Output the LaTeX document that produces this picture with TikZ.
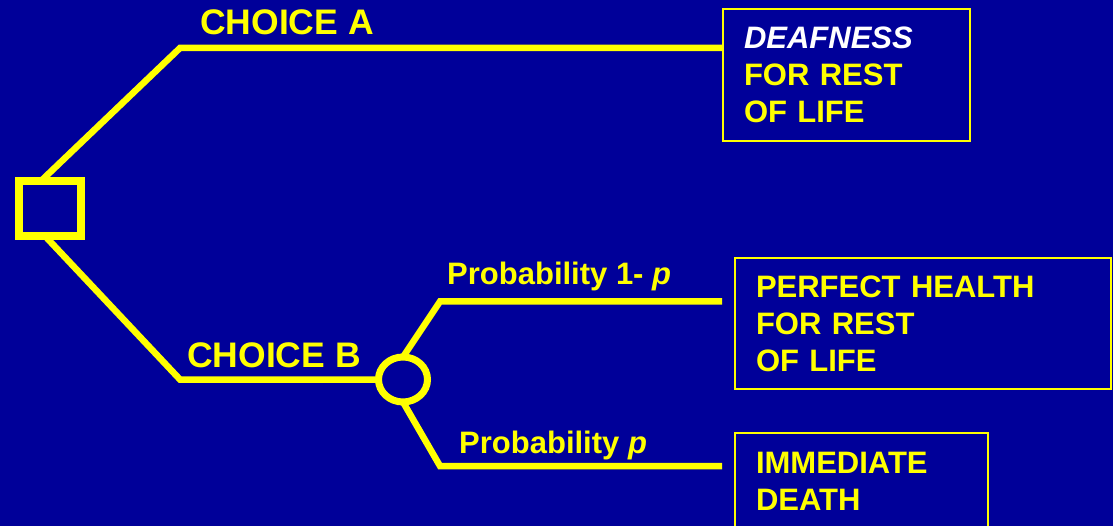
\documentclass[tikz,border=0pt]{standalone}
\usepackage{fontspec}
\setmainfont{Liberation Sans}
\usetikzlibrary{shapes.geometric}
\definecolor{bg}{RGB}{0,0,153}
\definecolor{yel}{RGB}{255,255,0}
\begin{document}
\begin{tikzpicture}[x=1pt,y=1pt,
  conn/.style={draw=yel, line width=6.5pt, line join=miter},
  outcome/.style={draw=yel, line width=2pt, text=yel, align=left,
    font=\fontsize{31}{37}\selectfont\bfseries, inner xsep=21pt},
  biglab/.style={text=yel, inner sep=0pt, anchor=base west,
    font=\fontsize{35.5}{40}\selectfont\bfseries},
  problab/.style={text=yel, inner sep=0pt, anchor=base west,
    font=\fontsize{31}{36}\selectfont\bfseries}
]
\useasboundingbox (0,0) rectangle (1113,-526);
\fill[bg] (0,0) rectangle (1113,-526);
\begin{scope}
\clip (0,0) rectangle (1113,-526);
% bend points
\coordinate (ka) at (180,-48);
\coordinate (kb) at (180,-379.5);
\coordinate (ku) at (440,-301.5);
\coordinate (kl) at (440,-466);
% outcome boxes
\node[outcome, text width=205pt, minimum height=132pt] (oa) at (846.5,-75)
  {\textcolor{white}{\itshape DEAFNESS}\\FOR REST\\OF LIFE};
\node[outcome, text width=334pt, minimum height=131pt] (op) at (923,-323.5)
  {PERFECT HEALTH\\FOR REST\\OF LIFE};
\node[outcome, text width=211pt, inner ysep=19pt, anchor=north west] (od) at (734,-432)
  {IMMEDIATE\\DEATH};
% decision and chance nodes (placed first as names, drawn over the connectors)
\node[minimum width=62pt, minimum height=55pt, inner sep=0pt, outer sep=0pt] (dec) at (50,-208.5) {};
\node[ellipse, minimum width=49pt, minimum height=45pt, inner sep=0pt, outer sep=0pt] (ch) at (403,-379.5) {};
% connectors
\draw[conn] ([xshift=-9pt]dec.north) -- (ka) -- (oa.west |- ka);
\draw[conn] ([xshift=-5pt]dec.south) -- (kb) -- (ch.west);
\draw[conn] (ch.north) -- (ku) -- ([xshift=-12pt]op.west |- ku);
\draw[conn] (ch.south) -- (kl) -- ([xshift=-12pt]od.west |- kl);
% node outlines on top
\draw[yel, line width=8pt] (dec.south west) rectangle (dec.north east);
\draw[yel, line width=7pt, fill=bg] (ch.center) ellipse [x radius=24.5pt, y radius=22.5pt];
% labels
\node[biglab] (la) at (200,-35) {CHOICE A};
\node[biglab] (lb) at (187,-367) {CHOICE B};
\node[problab] (pu) at (447,-285) {Probability 1- \textit{p}};
\node[problab] (pl) at (459,-453) {Probability \textit{p}};
\end{scope}
\end{tikzpicture}
\end{document}
